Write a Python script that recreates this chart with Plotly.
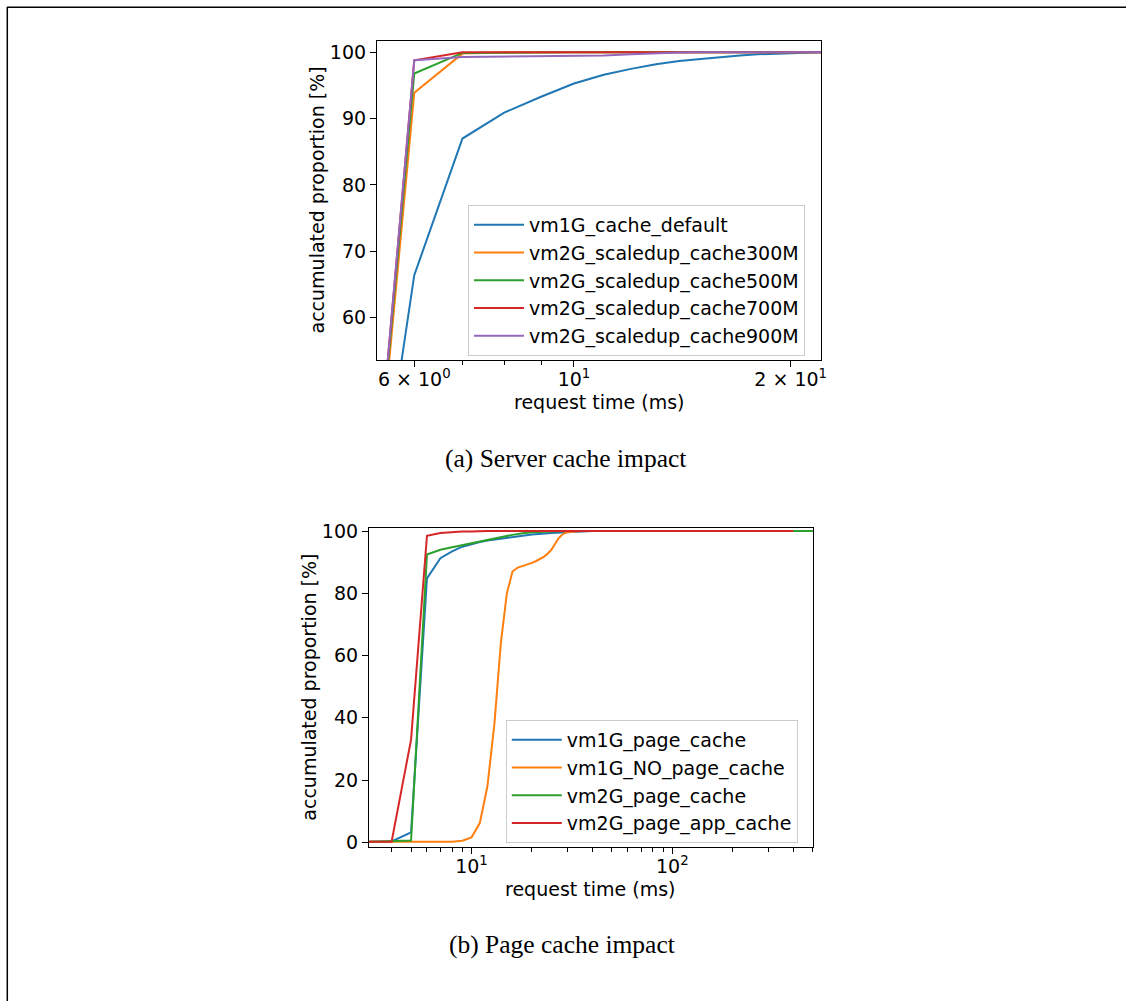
import plotly.graph_objects as go

W, H = 1126, 1001

# ---------------- (a) Server cache impact ----------------
a_names = ["vm1G_cache_default", "vm2G_scaledup_cache300M", "vm2G_scaledup_cache500M",
           "vm2G_scaledup_cache700M", "vm2G_scaledup_cache900M"]
a_x_default = [5, 6, 7, 8, 9, 10, 11, 12, 13, 14, 15, 16, 17, 18, 19, 20, 22, 24]
a_y_default = [8.6, 66.4, 87.0, 90.9, 93.3, 95.3, 96.6, 97.5, 98.2, 98.7, 99.0, 99.3,
               99.5, 99.7, 99.8, 99.9, 100.0, 100.0]
a_x_300 = [5, 6, 7, 8, 10, 15, 20, 24]
a_y_300 = [2.0, 93.9, 99.8, 99.95, 100.0, 100.0, 100.0, 100.0]
a_x_500 = [5, 6, 7, 8, 10, 15, 20, 24]
a_y_500 = [2.0, 96.8, 99.9, 99.95, 100.0, 100.0, 100.0, 100.0]
a_x_700 = [5, 6, 7, 8, 10, 15, 20, 24]
a_y_700 = [1.5, 98.8, 100.0, 100.0, 100.0, 100.0, 100.0, 100.0]
a_x_900 = [5, 6, 7, 8, 9, 10, 11, 12, 13, 14, 15, 20, 24]
a_y_900 = [1.5, 98.8, 99.3, 99.35, 99.4, 99.45, 99.5, 99.7, 99.85, 99.95, 100.0, 100.0, 100.0]

# ---------------- (b) Page cache impact ----------------
b_names = ["vm1G_page_cache", "vm1G_NO_page_cache", "vm2G_page_cache", "vm2G_page_app_cache"]
b_x_pc = [3, 4, 5, 6, 7, 8, 9, 10, 11, 12, 14, 16, 18, 20, 25, 30, 35, 40, 100, 400]
b_y_pc = [0.2, 0.3, 3.2, 84.8, 91.3, 93.5, 95.0, 95.9, 96.5, 97.0, 97.6, 98.1, 98.5,
          98.9, 99.4, 99.7, 99.9, 100.0, 100.0, 100.0]
b_x_nopc = [3, 4, 5, 6, 7, 8, 9, 10, 11, 12, 13, 14, 15, 16, 17, 18, 19, 20, 21, 22,
            23, 24, 25, 26, 27, 28, 29, 30, 32, 35, 100, 400]
b_y_nopc = [0.2, 0.2, 0.2, 0.2, 0.2, 0.2, 0.5, 1.6, 6.2, 18.0, 38.0, 64.0, 80.0, 87.0,
            88.3, 88.8, 89.3, 89.8, 90.4, 91.0, 91.8, 92.8, 94.0, 95.8, 97.5, 98.6,
            99.3, 99.6, 99.85, 100.0, 100.0, 100.0]
b_x_2pc = [3, 4, 5, 6, 7, 8, 9, 10, 11, 12, 14, 16, 18, 20, 25, 30, 100, 600]
b_y_2pc = [0.2, 0.3, 0.6, 92.5, 94.0, 94.8, 95.5, 96.2, 96.8, 97.3, 98.1, 98.8, 99.3,
           99.6, 99.9, 100.0, 100.0, 100.0]
b_x_app = [3, 4, 5, 6, 7, 8, 9, 10, 12, 100, 400]
b_y_app = [0.2, 0.2, 33.0, 98.5, 99.4, 99.7, 99.85, 99.9, 100.0, 100.0, 100.0]

colors = ["#1f77b4", "#ff7f0e", "#2ca02c", "#d62728", "#9467bd"]

a_series = [(a_x_default, a_y_default), (a_x_300, a_y_300), (a_x_500, a_y_500),
            (a_x_700, a_y_700), (a_x_900, a_y_900)]
b_series = [(b_x_pc, b_y_pc), (b_x_nopc, b_y_nopc), (b_x_2pc, b_y_2pc), (b_x_app, b_y_app)]

a_xticks = [6, 10, 20]
a_xticktext = ["6 × 10<sup>0</sup>", "10<sup>1</sup>", "2 × 10<sup>1</sup>"]
a_xminor = [7, 8, 9]
a_yticks = [60, 70, 80, 90, 100]
b_xticks = [10, 100]
b_xticktext = ["10<sup>1</sup>", "10<sup>2</sup>"]
b_xminor = [4, 5, 6, 7, 8, 9, 20, 30, 40, 50, 60, 70, 80, 90, 200, 300, 400, 500]
b_yticks = [0, 20, 40, 60, 80, 100]

FONT = "DejaVu Sans"
FS = 19

fig = go.Figure()
for i, (xs, ys) in enumerate(a_series):
    fig.add_trace(go.Scatter(x=xs, y=ys, mode="lines", name=a_names[i],
                             line=dict(color=colors[i], width=2),
                             xaxis="x", yaxis="y", legend="legend",
                             legendgroup="a%d" % i))
for i, (xs, ys) in enumerate(b_series):
    fig.add_trace(go.Scatter(x=xs, y=ys, mode="lines", name=b_names[i],
                             line=dict(color=colors[i], width=2),
                             xaxis="x2", yaxis="y2", legend="legend2",
                             legendgroup="b%d" % i))

def px(x):
    return x / W

def py(y):
    return 1 - y / H

axis_common = dict(showline=True, linecolor="black", linewidth=1.2, mirror=True,
                   ticks="outside", ticklen=6, tickwidth=1.2, tickcolor="black",
                   showgrid=False, zeroline=False, automargin=False,
                   tickfont=dict(family=FONT, size=FS, color="black"))

fig.update_layout(
    width=W, height=H,
    margin=dict(l=0, r=0, t=0, b=0),
    paper_bgcolor="white", plot_bgcolor="white",
    font=dict(family=FONT, size=FS, color="black"),
    xaxis=dict(type="log", domain=[px(377), px(821)], range=[0.7264, 1.3431],
               anchor="y", tickmode="array", tickvals=a_xticks, ticktext=a_xticktext,
               ticklabelstandoff=-4,
               minor=dict(tickmode="array", tickvals=a_xminor, ticks="outside",
                          ticklen=3.5, tickwidth=1, tickcolor="black", showgrid=False),
               **axis_common),
    yaxis=dict(domain=[py(360), py(41)], range=[53.62, 101.7], anchor="x",
               tickmode="array", tickvals=a_yticks, **axis_common),
    xaxis2=dict(type="log", domain=[px(369), px(813)], range=[0.4895, 2.7007],
                anchor="y2", tickmode="array", tickvals=b_xticks, ticktext=b_xticktext,
                ticklabelstandoff=-4,
                minor=dict(tickmode="array", tickvals=b_xminor, ticks="outside",
                           ticklen=3.5, tickwidth=1, tickcolor="black", showgrid=False),
                **axis_common),
    yaxis2=dict(domain=[py(847.3), py(527.7)], range=[-1.6, 101.1], anchor="x2",
                tickmode="array", tickvals=b_yticks, **axis_common),
    legend=dict(x=px(468), y=py(205), xanchor="left", yanchor="top",
                bgcolor="rgba(255,255,255,0.8)", bordercolor="#cccccc", borderwidth=1,
                font=dict(family=FONT, size=FS, color="black"),
                itemwidth=50, tracegroupgap=0, traceorder="normal"),
    legend2=dict(x=px(505.8), y=py(720), xanchor="left", yanchor="top",
                 bgcolor="rgba(255,255,255,0.8)", bordercolor="#cccccc", borderwidth=1,
                 font=dict(family=FONT, size=FS, color="black"),
                 itemwidth=50, tracegroupgap=0, traceorder="normal"),
    showlegend=True,
)

annotations = [
    dict(text="accumulated proportion [%]", x=px(316.5), y=py(200), textangle=-90),
    dict(text="request time (ms)", x=px(599), y=py(402)),
    dict(text="accumulated proportion [%]", x=px(308.7), y=py(687), textangle=-90),
    dict(text="request time (ms)", x=px(590), y=py(889)),
]
for an in annotations:
    an.update(xref="paper", yref="paper", showarrow=False, xanchor="center",
              yanchor="middle", font=dict(family=FONT, size=FS, color="black"))

captions = [
    dict(text="(a) Server cache impact", x=px(565), y=py(458)),
    dict(text="(b) Page cache impact", x=px(562), y=py(944)),
]
for c in captions:
    c.update(xref="paper", yref="paper", showarrow=False, xanchor="center",
             yanchor="middle", font=dict(family="Liberation Serif", size=25.5, color="black"))

fig.update_layout(annotations=annotations + captions)

# page frame lines (top and left)
fig.add_shape(type="line", xref="paper", yref="paper", x0=px(7), x1=1, y0=py(7.3), y1=py(7.3),
              line=dict(color="black", width=1.5))
fig.add_shape(type="line", xref="paper", yref="paper", x0=px(7.3), x1=px(7.3), y0=0, y1=py(7),
              line=dict(color="black", width=1.5))

fig.write_html("out.html", config={"displayModeBar": False},
               post_script="document.body.style.margin='0';")
